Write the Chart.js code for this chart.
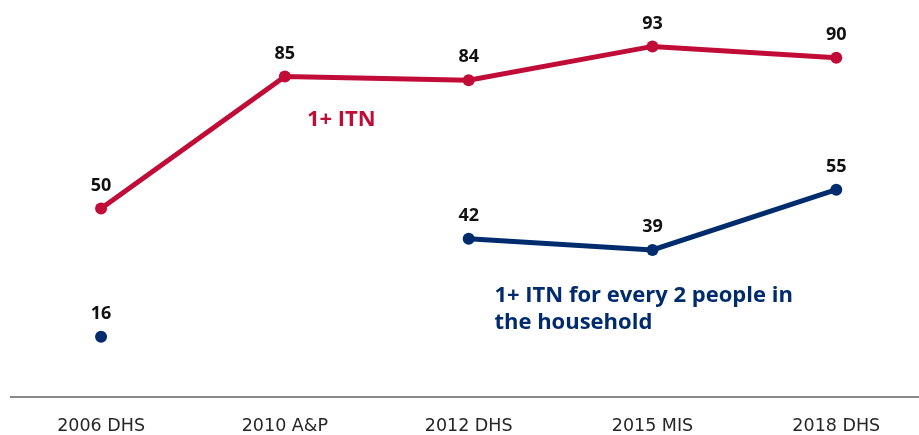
<!DOCTYPE html>
<html>
<head>
<meta charset="utf-8">
<title>ITN ownership</title>
<script src="https://cdn.jsdelivr.net/npm/chart.js@4/dist/chart.umd.min.js"></script>
<style>
    html, body { margin: 0; padding: 0; background: #fff; }
    #wrap { width: 919px; height: 435px; position: relative; }
</style>
</head>
<body>
<div id="wrap"><canvas id="itnChart"></canvas></div>
<script>
// Survey rounds along the x axis
const surveys = ['2006 DHS', '2010 A&P', '2012 DHS', '2015 MIS', '2018 DHS'];

// Percent of households with at least one ITN
const anyItn = [50, 85, 84, 93, 90];

// Percent of households with one ITN per two people (no value in 2010)
const itnPerTwo = [16, null, 42, 39, 55];

const RED = '#C00C37';
const NAVY = '#002C6E';

class ItnChartPage {
    constructor() {
        this.chart = null;
        this.init();
    }

    init() {
        this.buildChart();
    }

    // Value printed above every point
    valueLabelsPlugin() {
        return {
            id: 'valueLabels',
            afterDatasetsDraw(chart) {
                const ctx = chart.ctx;
                ctx.save();
                ctx.font = 'bold 18px "Open Sans"';
                ctx.fillStyle = '#111';
                ctx.textAlign = 'center';
                ctx.textBaseline = 'middle';
                chart.data.datasets.forEach((ds, i) => {
                    chart.getDatasetMeta(i).data.forEach((pt, j) => {
                        const v = ds.data[j].y;
                        if (v === null || v === undefined) return;
                        ctx.fillText(String(v), pt.x, pt.y - 23);
                    });
                });
                ctx.restore();
            }
        };
    }

    // Series names written next to their lines
    seriesNamesPlugin() {
        const names = [
            { lines: ['1+ ITN'], x: 1.12, y: 73.5, color: RED },
            { lines: ['1+ ITN for every 2 people in', 'the household'], x: 2.14, y: 26.8, color: NAVY }
        ];
        return {
            id: 'seriesNames',
            afterDatasetsDraw(chart) {
                const ctx = chart.ctx;
                const xs = chart.scales.x;
                const ys = chart.scales.y;
                ctx.save();
                ctx.font = 'bold 22px "Open Sans"';
                ctx.textAlign = 'left';
                ctx.textBaseline = 'middle';
                names.forEach(n => {
                    ctx.fillStyle = n.color;
                    const px = xs.getPixelForValue(n.x);
                    const py = ys.getPixelForValue(n.y);
                    n.lines.forEach((line, k) => ctx.fillText(line, px, py + k * 27));
                });
                ctx.restore();
            }
        };
    }

    toPoints(values) {
        return values.map((v, i) => ({ x: i, y: v }));
    }

    buildChart() {
        const ctx = document.getElementById('itnChart').getContext('2d');
        const lineStyle = (color) => ({
            borderColor: color,
            backgroundColor: color,
            pointBackgroundColor: color,
            pointBorderWidth: 0,
            pointRadius: 6,
            borderWidth: 5,
            tension: 0,
            spanGaps: false,
            clip: false
        });

        this.chart = new Chart(ctx, {
            type: 'line',
            data: {
                datasets: [
                    Object.assign({ label: '1+ ITN', data: this.toPoints(anyItn) }, lineStyle(RED)),
                    Object.assign({ label: '1+ ITN for every 2 people in the household', data: this.toPoints(itnPerTwo) }, lineStyle(NAVY))
                ]
            },
            options: {
                responsive: true,
                maintainAspectRatio: false,
                animation: false,
                layout: { autoPadding: false, padding: { top: 20, left: 11, right: 0, bottom: 0 } },
                plugins: {
                    legend: { display: false },
                    tooltip: { enabled: false }
                },
                scales: {
                    x: {
                        type: 'linear',
                        min: -0.49,
                        max: 4.45,
                        afterBuildTicks: (axis) => {
                            axis.ticks = surveys.map((_, i) => ({ value: i }));
                        },
                        afterFit: (axis) => {
                            axis.height = 38;
                            axis.paddingRight = 0;
                        },
                        grid: { display: false, drawTicks: false },
                        border: { display: true, color: '#888', width: 2 },
                        ticks: {
                            padding: 19,
                            color: '#262626',
                            font: { family: '"DejaVu Sans"', size: 17.5 },
                            maxRotation: 0,
                            autoSkip: false,
                            callback: (v) => surveys[v]
                        }
                    },
                    y: {
                        display: false,
                        min: 0,
                        max: 100
                    }
                }
            },
            plugins: [this.valueLabelsPlugin(), this.seriesNamesPlugin()]
        });
    }
}

new ItnChartPage();
</script>
</body>
</html>
